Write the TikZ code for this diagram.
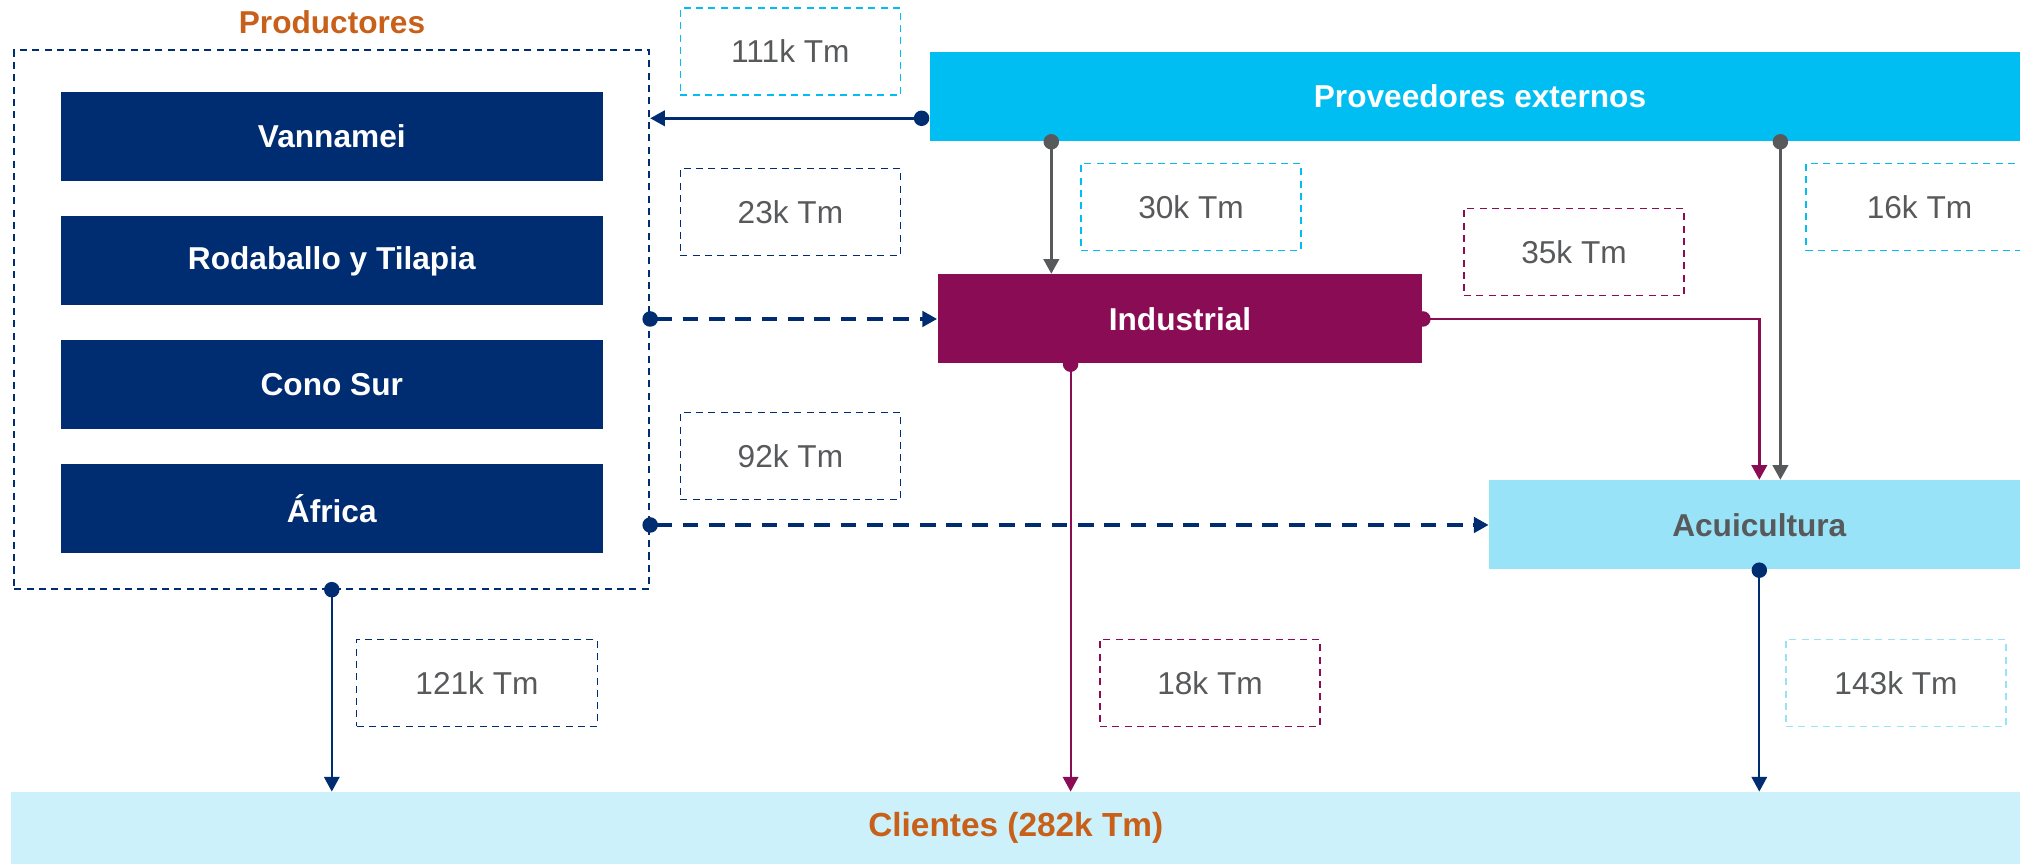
\documentclass[tikz,border=0pt]{standalone}
\usepackage{fontspec}
\setmainfont{Liberation Sans}
\usetikzlibrary{arrows.meta,calc}

\definecolor{navy}{HTML}{002D72}
\definecolor{cyanbar}{HTML}{00BEF2}
\definecolor{plum}{HTML}{8A0C55}
\definecolor{paleblue}{HTML}{99E3F9}
\definecolor{icyblue}{HTML}{CCF1FA}
\definecolor{rust}{HTML}{C8601A}
\definecolor{slate}{HTML}{58595B}

\begin{document}
\begin{tikzpicture}[
  font=\fontsize{9}{11}\selectfont,
  blk/.style={minimum height=.89cm, inner sep=0pt, font=\fontsize{9}{11}\selectfont\bfseries},
  prodbox/.style={blk, fill=navy, text=white, minimum width=5.42cm},
  qty/.style={draw=#1, dash pattern=on 2pt off 1.5pt, line width=.5pt, minimum width=2.2cm, minimum height=.87cm, text=slate},
  flow/.style={draw=#1, line width=.8pt, shorten <=-2.2pt, {Circle[length=4.4pt,width=4.4pt]}-{Triangle[length=4.2pt,width=4.4pt]}},
  dflow/.style={flow=navy, dash pattern=on 4.5pt off 3pt, line width=1pt}
]
\useasboundingbox (0,0) rectangle (20.2,8.64);

\node[draw=navy, dash pattern=on 2pt off 1.5pt, line width=.5pt, minimum width=6.35cm, minimum height=5.386cm] (prod) at (3.318,5.445) {};
\node[font=\fontsize{9}{11}\selectfont\bfseries, text=rust] (prodtitle) at (3.32,8.42) {Productores};

\node[prodbox] (vann) at (3.318,7.274) {Vannamei};
\node[prodbox] (roda) at (3.318,6.03) {Rodaballo y Tilapia};
\node[prodbox] (cono) at (3.318,4.795) {Cono Sur};
\node[prodbox] (afri) at (3.318,3.557) {África};

\node[blk, fill=cyanbar, text=white, minimum width=11cm] (prov) at (14.80,7.674) {Proveedores externos};
\node[blk, fill=plum, text=white, minimum width=4.844cm] (ind) at (11.80,5.45) {Industrial};
\node[blk, fill=paleblue, text=slate, minimum width=5.4cm] (acu) at (17.593,3.39) {Acuicultura};
\node[anchor=base, inner sep=0pt, minimum width=20.1cm, text height=.442cm, text depth=.375cm, fill=icyblue, text=rust, font=\fontsize{9.5}{11}\selectfont\bfseries] (cli) at (10.158,0.275) {Clientes (282k Tm)};

\node[qty=cyanbar] (q111) at (7.904,8.125) {111k Tm};
\node[qty=navy] (q23) at (7.904,6.52) {23k Tm};
\node[qty=navy] (q92) at (7.904,4.08) {92k Tm};
\node[qty=cyanbar] (q30) at (11.91,6.57) {30k Tm};
\node[qty=plum] (q35) at (15.74,6.12) {35k Tm};
\node[qty=cyanbar, minimum width=2.27cm] (q16) at (19.195,6.57) {16k Tm};
\node[qty=navy, minimum width=2.41cm] (q121) at (4.77,1.81) {121k Tm};
\node[qty=plum] (q18) at (12.10,1.81) {18k Tm};
\node[qty=paleblue] (q143) at (18.96,1.81) {143k Tm};

\coordinate (pv) at ($(prov.south west)!.26!(prov.north west)$);
\coordinate (gx1) at (10.513,0);
\coordinate (gx2) at (17.804,0);
\coordinate (px) at (10.706,0);

\draw[flow=navy, shorten <=0pt] (pv) -- (pv -| prod.east);
\draw[flow=slate] (prov.south -| gx1) -- (ind.north -| gx1);
\draw[flow=slate] (prov.south -| gx2) -- (acu.north -| gx2);
\draw[dflow] (prod.east |- ind) -- (ind.west);
\draw[dflow] (prod.east |- acu) -- (acu.west);
\draw[flow=plum] (ind.east) -| (acu.north);
\draw[flow=plum, line width=.6pt] (ind.south -| px) -- (cli.north -| px);
\draw[flow=navy, line width=.6pt] (prod.south) -- (prod.south |- cli.north);
\draw[flow=navy, line width=.6pt] (acu.south) -- (acu.south |- cli.north);
\end{tikzpicture}
\end{document}
